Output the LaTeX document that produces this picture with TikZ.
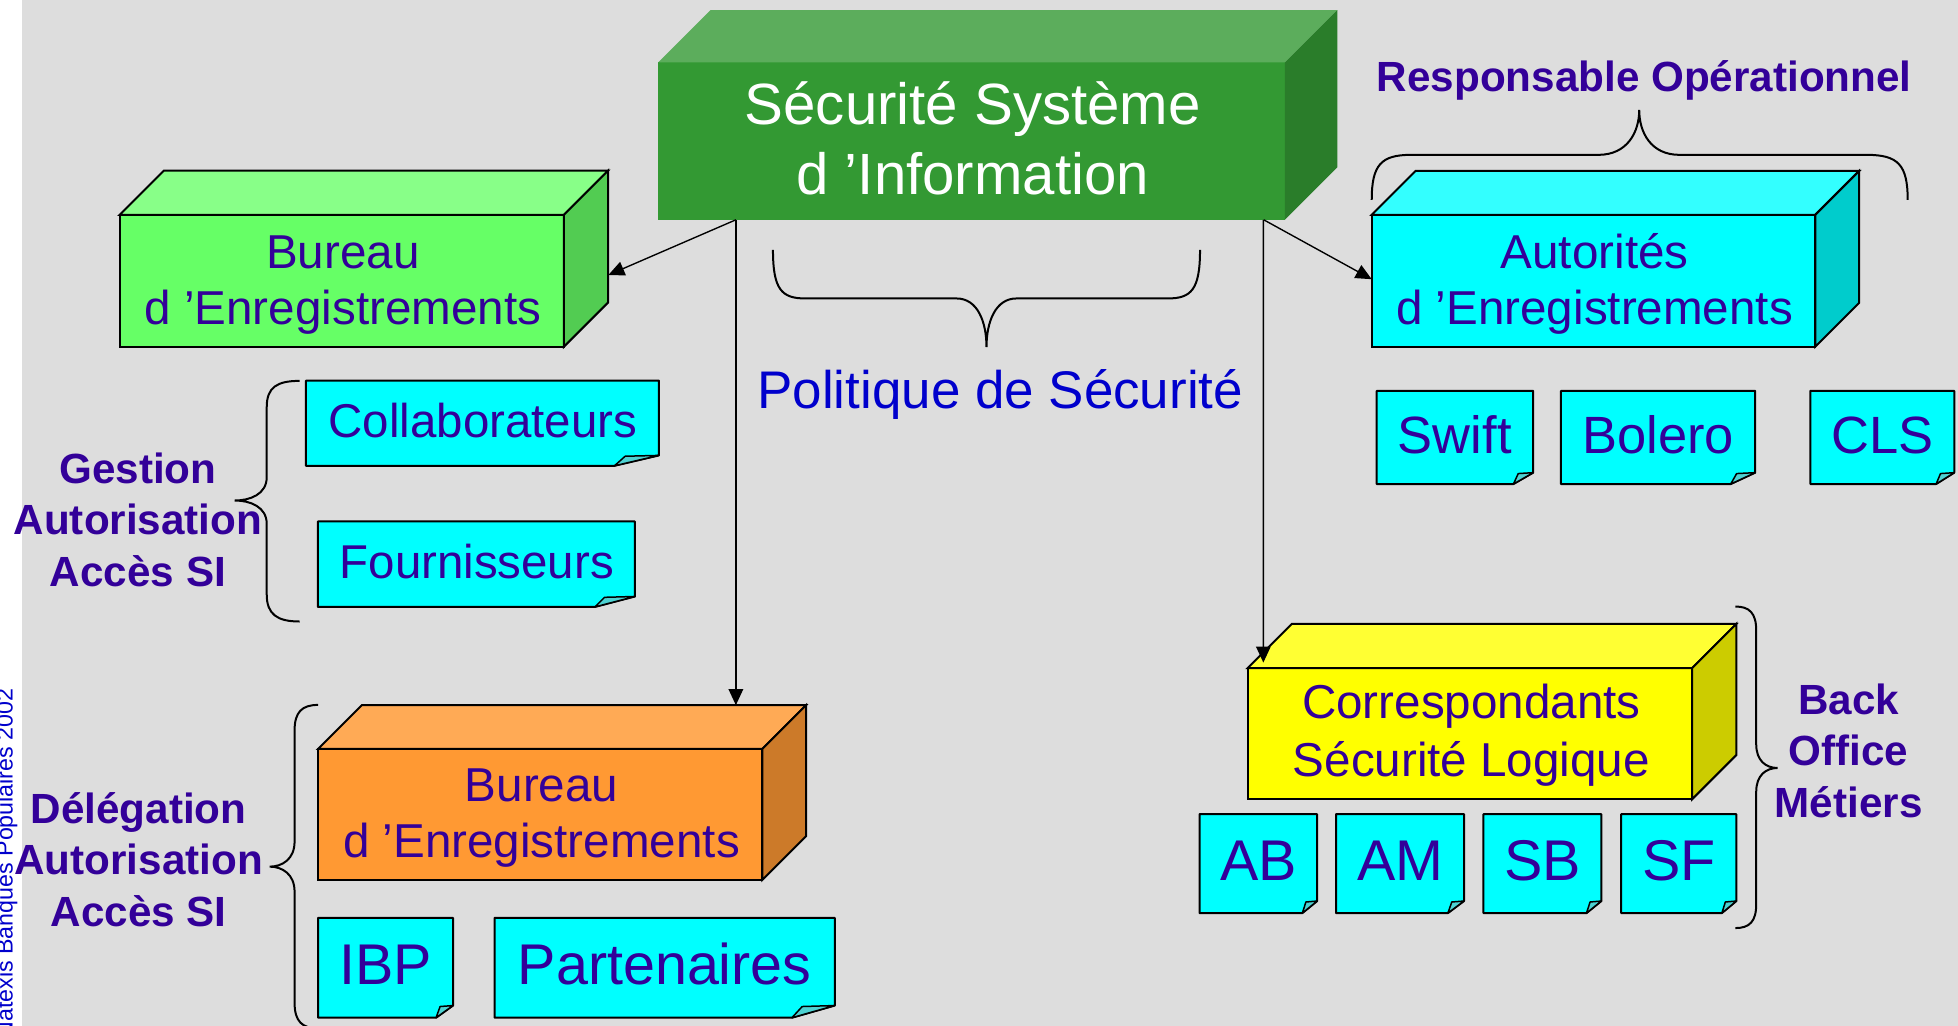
\documentclass[tikz,border=0pt]{standalone}
\usepackage{fontspec}
\setmainfont{Liberation Sans}
\usetikzlibrary{arrows.meta,calc,fit}
\definecolor{bg}{HTML}{DDDDDD}
\definecolor{purp}{HTML}{330099}
\definecolor{blu}{HTML}{0000CC}
\definecolor{gF}{HTML}{339933}\definecolor{gT}{HTML}{5CAD5C}\definecolor{gS}{HTML}{2A7D2A}
\definecolor{lgF}{HTML}{66FF66}\definecolor{lgT}{HTML}{88FF88}\definecolor{lgS}{HTML}{52CC52}
\definecolor{cF}{HTML}{00FFFF}\definecolor{cT}{HTML}{33FFFF}\definecolor{cS}{HTML}{00CCCC}
\definecolor{oF}{HTML}{FF9933}\definecolor{oT}{HTML}{FFAA55}\definecolor{oS}{HTML}{CC7A29}
\definecolor{yF}{HTML}{FFFF00}\definecolor{yT}{HTML}{FFFF33}\definecolor{yS}{HTML}{CCCC00}
\definecolor{foldc}{HTML}{4DD2D2}

% name, x1,y1,x2,y2, depth, front, top, side
\newcommand\cubebox[9]{%
  \node[fit={(#2,#3)(#4,#5)}, inner sep=0pt, outer sep=0pt, fill=#7, cubeline] (#1) {};
  \path[fill=#8, cubeline] (#1.north west) -- ++(#6,-#6) -- ($(#1.north east)+(#6,-#6)$) -- (#1.north east) -- cycle;
  \path[fill=#9, cubeline] (#1.north east) -- ++(#6,-#6) -- ($(#1.south east)+(#6,-#6)$) -- (#1.south east) -- cycle;
}
% name, x1,y1,x2,y2
\newcommand\notebox[5]{%
  \pgfmathsetmacro\nfw{0.126*(#4-#2)}%
  \pgfmathsetmacro\nfh{0.122*(#5-#3)}%
  \node[fit={(#2,#3)(#4,#5)}, inner sep=0pt, outer sep=0pt] (#1) {};
  \filldraw[fill=cF, olin, line join=bevel] (#1.north west) -- (#1.north east) -- ($(#1.south east)+(0,-\nfh)$) -- ($(#1.south east)+(-\nfw,0)$) -- (#1.south west) -- cycle;
  \filldraw[fill=foldc, olin, line width=0.6pt, line join=round] ($(#1.south east)+(-\nfw,0)$) -- ($(#1.south east)+(-0.76*\nfw,-0.92*\nfh)$) .. controls ($(#1.south east)+(-0.4*\nfw,-0.96*\nfh)$) .. ($(#1.south east)+(0,-\nfh)$) -- cycle;
}

\begin{document}
\begin{tikzpicture}[x=0.5pt,y=-0.5pt,
  olin/.style={line width=0.8pt, draw=black, line join=miter},
  cubeline/.style={olin},
  conn/.style={line width=0.55pt, draw=black, -{Triangle[length=6.4pt,width=5.8pt]}},
  brace/.style={line width=0.8pt, draw=black},
  ttl/.style={anchor=base, align=center, inner sep=0pt, text=white, font=\fontsize{23.3}{28}\selectfont},
  btx/.style={anchor=base, align=center, inner sep=0pt, text=purp, font=\fontsize{19.05}{22.65}\selectfont},
  ntxA/.style={anchor=base, inner sep=0pt, text=purp, font=\fontsize{19}{22}\selectfont},
  ntxB/.style={anchor=base, inner sep=0pt, text=purp, font=\fontsize{21}{25}\selectfont},
  ntxC/.style={anchor=base, inner sep=0pt, text=purp, font=\fontsize{23}{27}\selectfont},
  lbl/.style={anchor=base, align=center, inner sep=0pt, text=purp, font=\bfseries\fontsize{16.9}{20.7}\selectfont},
]
\useasboundingbox (0,0) rectangle (1568,821.6);
\clip (0,0) rectangle (1568,821.6);
\fill[bg] (17.6,0) rectangle (1568,821.6);
\fill[white] (0,0) rectangle (17.6,821.6);

% vertical credit
\node[rotate=90, anchor=base east, inner sep=0pt, text=blu, font=\fontsize{9.3}{11}\selectfont] (credit) at (10.2,551) {Natexis Banques Populaires 2002};

% cubes
\begin{scope}[cubeline/.style={draw=none}]
\cubebox{G}{527}{50}{1029}{176}{42}{gF}{gT}{gS}
\end{scope}
\cubebox{bel}{95.8}{172}{451.6}{277.6}{35.4}{lgF}{lgT}{lgS}
\cubebox{aut}{1098.5}{172}{1453.7}{277.6}{35.1}{cF}{cT}{cS}
\cubebox{obe}{254.7}{599.7}{610.5}{704.6}{35}{oF}{oT}{oS}
\cubebox{cor}{999.2}{535}{1355.1}{640}{35.4}{yF}{yT}{yS}

% notes
\notebox{collab}{245}{304.8}{527.7}{373}
\notebox{fourn}{254.5}{417.6}{508.5}{486}
\notebox{swift}{1102.5}{313}{1227.8}{387.6}
\notebox{bolero}{1250}{313}{1405.6}{387.6}
\notebox{cls}{1449.7}{313}{1565}{387.6}
\notebox{ab}{960.6}{652}{1054.8}{731.2}
\notebox{am}{1069.9}{652}{1172.4}{731.2}
\notebox{sb}{1187.9}{652}{1282.4}{731.2}
\notebox{sf}{1298.3}{652}{1390.5}{731.2}
\notebox{ibp}{254.7}{735}{362.8}{815}
\notebox{part}{396}{735}{668.5}{815}

% connectors
\draw[conn] ($(G.south west)+(62.3,0)$) -- ($(bel.south east)+(35.6,-57.4)$);
\draw[conn] ($(G.south west)+(62.3,0)$) -- ($(obe.north west)+(334.6,-35)$);
\draw[conn] ($(G.south east)+(-17,0)$) -- ($(aut.west)+(0,-1.2)$);
\draw[conn] ($(G.south east)+(-17.3,0)$) -- ($(cor.north west)+(12.5,-4.4)$);

% braces
\draw[brace] (619,200) .. controls (619,232) and (626,239) .. (645,239) -- (766,239) .. controls (783,239) and (790,258) .. (790,278) .. controls (790,258) and (797,239) .. (814,239) -- (935,239) .. controls (954,239) and (961,232) .. (961,200);
\draw[brace] (1098.5,160) .. controls (1098.5,132) and (1106,124) .. (1130,124) -- (1280,124) .. controls (1303,124) and (1312.7,106) .. (1312.7,88) .. controls (1312.7,106) and (1322,124) .. (1345,124) -- (1495,124) .. controls (1520,124) and (1527.7,132) .. (1527.7,160);
\draw[brace] (240,305) .. controls (222,305) and (213.6,310) .. (213.6,326) -- (213.6,382) .. controls (213.6,396) and (200,400.8) .. (188,400.8) .. controls (200,400.8) and (213.6,405.6) .. (213.6,419.6) -- (213.6,476) .. controls (213.6,492) and (222,497.7) .. (240,497.7);
\draw[brace] (254.7,564.5) .. controls (242,564.5) and (235.9,570) .. (235.9,585) -- (235.9,674) .. controls (235.9,688) and (226,694) .. (216,694) .. controls (226,694) and (235.9,700) .. (235.9,714) -- (235.9,803) .. controls (235.9,818) and (242,823.5) .. (254.7,823.5);
\draw[brace] (1389.7,485.7) .. controls (1401,485.7) and (1406.4,491) .. (1406.4,505) -- (1406.4,596) .. controls (1406.4,609) and (1414,615) .. (1423.5,615) .. controls (1414,615) and (1406.4,621) .. (1406.4,634) -- (1406.4,724) .. controls (1406.4,738) and (1401,743.2) .. (1389.7,743.2);

% texts (anchor=base is the baseline of the last line)
\node[ttl] (G-t) at (779,156) {Sécurité Système\\d ’Information};
\node[btx] (bel-t) at (274.6,260) {Bureau\\d ’Enregistrements};
\node[btx] (aut-t) at (1277,260) {Autorités\\d ’Enregistrements};
\node[btx] (obe-t) at (433.7,687) {Bureau\\d ’Enregistrements};
\node[btx, font=\fontsize{19.05}{23.4}\selectfont] (cor-t) at (1178.3,621.8) {Correspondants\\Sécurité Logique};
\node[anchor=base, inner sep=0pt, text=blu, font=\fontsize{21.2}{25}\selectfont] (pol) at (801,327) {Politique de Sécurité};

\node[ntxA] (collab-t) at (386.8,350) {Collaborateurs};
\node[ntxA] (fourn-t) at (381.8,463) {Fournisseurs};
\node[ntxB] (swift-t) at (1165,362.8) {Swift};
\node[ntxB] (bolero-t) at (1327.8,362.8) {Bolero};
\node[ntxB] (cls-t) at (1507.4,362.8) {CLS};
\node[ntxC] (ab-t) at (1007.7,705.4) {AB};
\node[ntxC] (am-t) at (1121.2,705.4) {AM};
\node[ntxC] (sb-t) at (1235.2,705.4) {SB};
\node[ntxC] (sf-t) at (1344.4,705.4) {SF};
\node[ntxC] (ibp-t) at (308.8,788.6) {IBP};
\node[ntxC] (part-t) at (532.3,788.6) {Partenaires};

\node[lbl] (resp) at (1316.7,73.4) {Responsable Opérationnel};
\node[lbl] (gest) at (110.5,469.7) {Gestion\\Autorisation\\Accès SI};
\node[lbl] (deleg) at (111,742) {Délégation\\Autorisation\\Accès SI};
\node[lbl] (back) at (1480.4,654.7) {Back\\Office\\Métiers};
\end{tikzpicture}
\end{document}
